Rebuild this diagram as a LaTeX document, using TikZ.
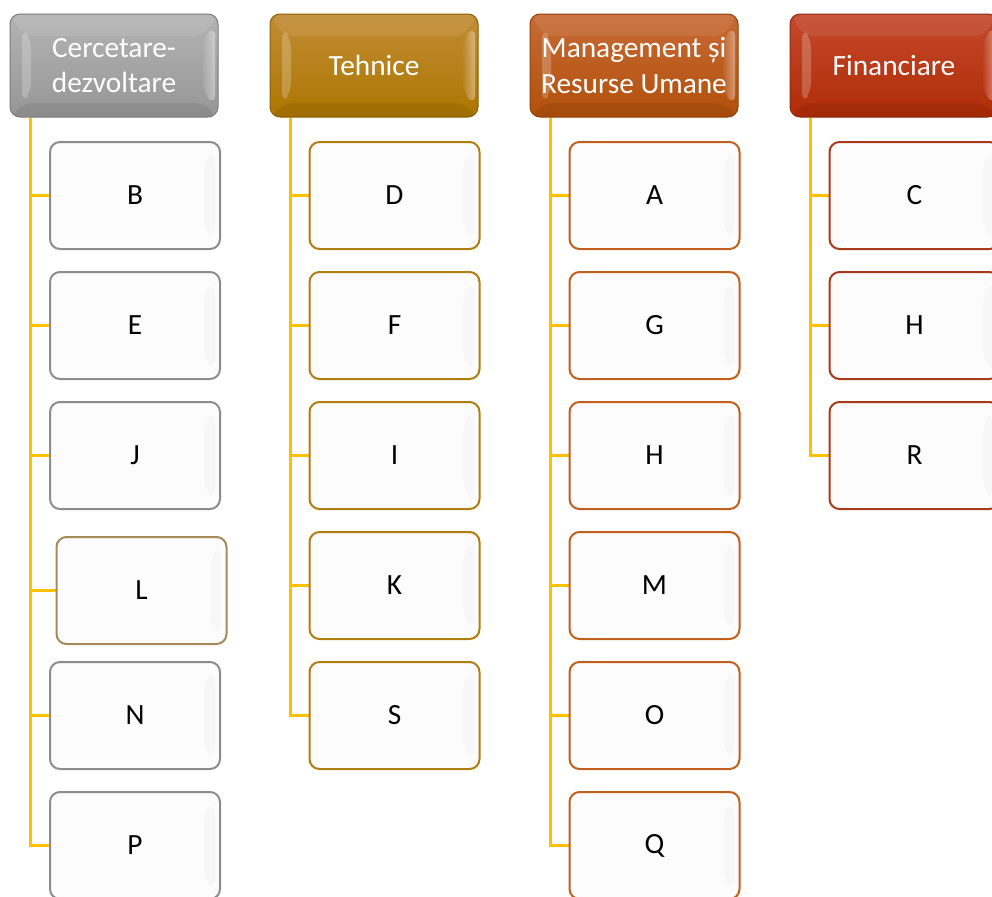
\documentclass[tikz,border=0pt]{standalone}
\usepackage{fontspec}
\setmainfont{Carlito}
\usetikzlibrary{backgrounds}

% header palettes
\definecolor{grayTop}{HTML}{B4B4B4}\definecolor{grayBot}{HTML}{969696}\definecolor{grayEdge}{HTML}{7A7A7A}
\definecolor{goldTop}{HTML}{C28C36}\definecolor{goldBot}{HTML}{AC7600}\definecolor{goldEdge}{HTML}{8A6000}
\definecolor{rustTop}{HTML}{C76A36}\definecolor{rustBot}{HTML}{B2500A}\definecolor{rustEdge}{HTML}{8E3F0A}
\definecolor{redTop}{HTML}{C4492C}\definecolor{redBot}{HTML}{B02C06}\definecolor{redEdge}{HTML}{8A2A10}
% child box borders
\definecolor{kidGray}{HTML}{8C8C8C}\definecolor{kidTan}{HTML}{A48A5A}
\definecolor{kidGold}{HTML}{B07D10}\definecolor{kidRust}{HTML}{C0601C}\definecolor{kidRed}{HTML}{A83A1C}
\definecolor{kidFill}{HTML}{FCFCFC}
\definecolor{linkGold}{HTML}{FFC000}

\tikzset{
  hdr/.style n args={3}{rounded corners=7.5pt, minimum width=156pt, minimum height=77.25pt,
    inner sep=0pt, text=white, font=\fontsize{22}{26.5}\selectfont, align=center,
    line width=0.75pt, draw=#3, top color=#1, bottom color=#2,
    path picture={
      % lighter top band, darker bottom band
      \fill[white, fill opacity=.08] (path picture bounding box.north west) -- (path picture bounding box.north east)
        -- ([shift={(-14,22)}]path picture bounding box.north east) -- ([shift={(14,22)}]path picture bounding box.north west) -- cycle;
      \fill[black, fill opacity=.07] (path picture bounding box.south west) -- (path picture bounding box.south east)
        -- ([shift={(-14,-14)}]path picture bounding box.south east) -- ([shift={(14,-14)}]path picture bounding box.south west) -- cycle;
      % left bevel face
      \fill[white, fill opacity=.22] ([shift={(12,14)}]path picture bounding box.north west) -- ([shift={(21,24)}]path picture bounding box.north west)
        -- ([shift={(21,-24)}]path picture bounding box.south west) -- ([shift={(12,-14)}]path picture bounding box.south west) -- cycle;
      % right bevel highlight
      \shade[left color=#1, right color=white, fill opacity=.4] ([shift={(-15,24)}]path picture bounding box.north east) -- ([shift={(-3,12)}]path picture bounding box.north east)
        -- ([shift={(-3,-12)}]path picture bounding box.south east) -- ([shift={(-15,-24)}]path picture bounding box.south east) -- cycle;
    }},
  kid/.style={rounded corners=7.5pt, minimum width=127.5pt, minimum height=80.25pt,
    inner sep=0pt, fill=kidFill, line width=1.5pt, draw=#1, font=\fontsize{22}{26.5}\selectfont,
    path picture={
      \fill[black, fill opacity=.018] ([shift={(-16,18)}]path picture bounding box.north east) -- ([shift={(-5,10)}]path picture bounding box.north east)
        -- ([shift={(-5,-10)}]path picture bounding box.south east) -- ([shift={(-16,-18)}]path picture bounding box.south east) -- cycle;
    }},
  conn/.style={draw=linkGold, line width=2.2pt},
  spine/.style={xshift=15.75pt}
}

\begin{document}
\begin{tikzpicture}[x=0.75pt,y=-0.75pt]
\useasboundingbox (0,0) rectangle (992,896);
\clip (0,0) rectangle (992,896);

% category headers
\node[hdr={grayTop}{grayBot}{grayEdge}] (rd)  at (114,65.5) {Cercetare-\\dezvoltare};
\node[hdr={goldTop}{goldBot}{goldEdge}] (teh) at (374,65.5) {Tehnice};
\node[hdr={rustTop}{rustBot}{rustEdge}] (mgt) at (634,65.5) {Management și\\Resurse Umane};
\node[hdr={redTop}{redBot}{redEdge}]    (fin) at (894,65.5) {Financiare};

% Cercetare-dezvoltare
\node[kid=kidGray] (b) at (135,195.5) {B};
\node[kid=kidGray] (e) at (135,325.5) {E};
\node[kid=kidGray] (j) at (135,455.5) {J};
\node[kid=kidTan]  (l) at (141.5,590.5) {L};
\node[kid=kidGray] (n) at (135,715.5) {N};
\node[kid=kidGray] (p) at (135,845.5) {P};

% Tehnice
\node[kid=kidGold] (d) at (394.5,195.5) {D};
\node[kid=kidGold] (f) at (394.5,325.5) {F};
\node[kid=kidGold] (i) at (394.5,455.5) {I};
\node[kid=kidGold] (k) at (394.5,585.5) {K};
\node[kid=kidGold] (s) at (394.5,715.5) {S};

% Management si Resurse Umane
\node[kid=kidRust] (a)  at (654.5,195.5) {A};
\node[kid=kidRust] (g)  at (654.5,325.5) {G};
\node[kid=kidRust] (h1) at (654.5,455.5) {H};
\node[kid=kidRust] (m)  at (654.5,585.5) {M};
\node[kid=kidRust] (o)  at (654.5,715.5) {O};
\node[kid=kidRust] (q)  at (654.5,845.5) {Q};

% Financiare
\node[kid=kidRed] (c)  at (914.5,195.5) {C};
\node[kid=kidRed] (h2) at (914.5,325.5) {H};
\node[kid=kidRed] (r)  at (914.5,455.5) {R};

\begin{scope}[on background layer]
  \foreach \kid in {b,e,j,l,n,p} \draw[conn] ([spine]rd.south west) |- (\kid.west);
  \foreach \kid in {d,f,i,k,s}   \draw[conn] ([spine]teh.south west) |- (\kid.west);
  \foreach \kid in {a,g,h1,m,o,q} \draw[conn] ([spine]mgt.south west) |- (\kid.west);
  \foreach \kid in {c,h2,r}      \draw[conn] ([spine]fin.south west) |- (\kid.west);
\end{scope}
\end{tikzpicture}
\end{document}
